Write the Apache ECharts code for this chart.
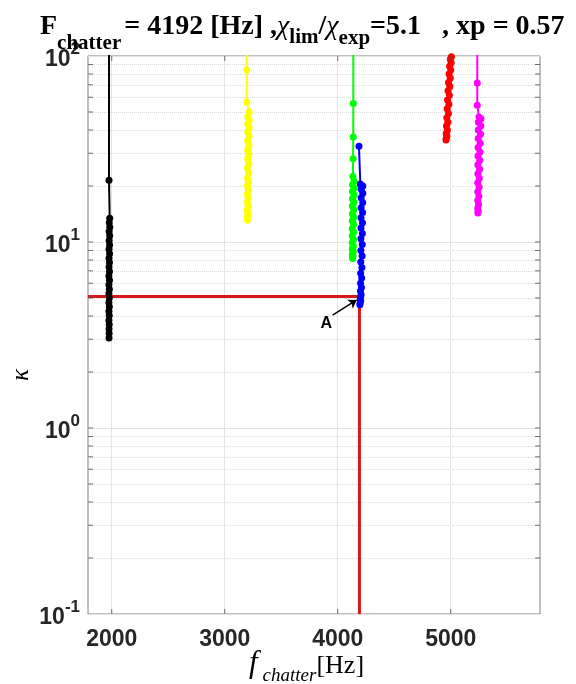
<!DOCTYPE html>
<html><head><meta charset="utf-8">
<script src="https://cdn.jsdelivr.net/npm/echarts@6/dist/echarts.min.js"></script>
<style>html,body{margin:0;padding:0;background:#fff}#c{width:576px;height:684px}</style>
</head><body><div id="c"></div>
<script>
// ---- axes ----
const xRange = [1790, 5790];
const yRange = [0.1, 100];
const xTicks = [2000, 3000, 4000, 5000];
const yTicks = [0.1, 1, 10, 100];
const yMinor = [0.2,0.3,0.4,0.5,0.6,0.7,0.8,0.9,2,3,4,5,6,7,8,9,20,30,40,50,60,70,80,90];

// ---- annotation values ----
const chatterF = 4192;
const ratio = 5.1;
const xp = 0.57;
const arrowFrom = [3955, 4.05];
const arrowTo = [4168, 4.88];
const labelA = [3898, 3.66];

// ---- series ----
const blackF = [1976,1976,1982,1978,1983,1977,1982,1977,1981,1976,1981,1976,1980,1976,1980,1975,1980,1975,1979,1975,1979,1975,1979,1975,1978,1975,1978,1976,1977,1976];
const blackK = [300,21.5,13.4,12.7,12.0,11.4,10.8,10.2,9.65,9.13,8.65,8.19,7.75,7.34,6.95,6.57,6.22,5.89,5.58,5.28,5.0,4.73,4.48,4.24,4.02,3.8,3.6,3.41,3.22,3.05];

const yellowF = [3195,3195,3195,3216,3204,3217,3203,3216,3203,3215,3202,3214,3202,3213,3202,3212,3201,3211,3201,3210,3200,3209,3200,3208,3199,3207,3199,3205,3199,3201];
const yellowK = [300,84,56.6,50,47,45,43,41,39,37,35,33,31,29.5,28,26.5,25,23.5,22,21,20,19,18,17.2,16.3,15.5,14.8,14.1,13.6,13.1];

const greenF = [4138,4138,4137,4136,4134,4145,4131,4146,4130,4145,4130,4144,4129,4143,4129,4142,4129,4141,4128,4140,4128,4139,4128,4138,4128,4137,4129,4135,4130,4132];
const greenK = [300,55.5,36.7,28,22.5,21.2,20.3,19.5,18.7,17.9,17.1,16.3,15.6,14.9,14.2,13.6,13.0,12.4,11.8,11.3,10.8,10.3,9.9,9.5,9.2,8.9,8.6,8.4,8.25,8.15];

const blueF = [4188,4200,4222,4208,4222,4207,4221,4207,4220,4206,4219,4206,4218,4205,4217,4205,4216,4204,4214,4203,4212,4202,4210,4201,4207,4200,4203,4198,4196];
const blueK = [32.7,20.5,20.0,19.2,18.3,17.3,16.3,15.3,14.4,13.5,12.7,11.9,11.1,10.4,9.7,9.0,8.4,7.8,7.3,6.8,6.4,6.0,5.7,5.45,5.2,5.0,4.85,4.7,4.6];

const redF = [5003,5006,4996,5004,4990,5000,4985,4996,4980,4992,4976,4988,4972,4984,4968,4980,4965,4975,4962,4970,4960,4966,4960,4958];
const redK = [108,99,96,92,88,84,80,76,72,68.5,65,61.5,58,55,52,49,46.5,44,42,40,38.3,37,36,35.3];

const magentaF = [5235,5235,5235,5250,5268,5245,5266,5244,5264,5243,5261,5242,5259,5241,5257,5240,5255,5240,5253,5239,5251,5239,5249,5239,5246,5239,5243,5240];
const magentaK = [300,71.6,54.3,47,46,44,42,40,38,36,34,32.2,30.5,29,27.5,26,24.6,23.3,22,20.8,19.7,18.6,17.6,16.7,15.9,15.2,14.7,14.3];

// ---- build ----
const pair = (xs, ys) => xs.map((x, i) => [x, ys[i]]);
function curve(name, xs, ys, color) {
  return {type:'line', name, data: pair(xs, ys), symbol:'circle', symbolSize:7, showSymbol:true,
    lineStyle:{color, width:2}, itemStyle:{color, borderWidth:0, borderColor:color, opacity:1}, animation:false, clip:true, z:3,
    emphasis:{disabled:true}};
}
function ticks(points, size, offset) {
  return {type:'scatter', data: points, symbol:'rect', symbolSize:size, symbolOffset:offset,
    itemStyle:{color:'#4d4d4d', borderWidth:0}, clip:false, silent:true, animation:false, z:5};
}
const tickColor = '#262626';
const sansBold = 'bold 23px "Liberation Sans", Arial, sans-serif';

const chart = echarts.init(document.getElementById('c'), null, {renderer:'canvas'});
const option = {
  animation:false,
  backgroundColor:'#fff',
  grid:{left:88, right:36, top:56, bottom:70, show:true, borderColor:'#808080', borderWidth:1, backgroundColor:'transparent'},
  xAxis:{type:'value', min:xRange[0], max:xRange[1],
    axisLine:{show:false}, axisTick:{show:false}, splitLine:{show:false},
    axisLabel:{customValues:xTicks, formatter: v => String(v), fontSize:23, fontWeight:'bold', fontFamily:'"Liberation Sans", Arial, sans-serif', color:tickColor, margin:14}},
  yAxis:{type:'log', logBase:10, min:yRange[0], max:yRange[1],
    axisLine:{show:false}, axisTick:{show:false}, axisLabel:{show:false},
    splitLine:{show:true, lineStyle:{color:'#e4e4e4', width:1}}},
  series:[
    {type:'line', data:[], silent:true, z:1, markLine:{z:1, silent:true, animation:false, symbol:['none','none'], label:{show:false},
      lineStyle:{color:'#dadada', type:'dotted', width:1},
      data:[...yMinor.map(v => ({yAxis:v})), ...xTicks.map(v => ({xAxis:v, lineStyle:{type:'solid', color:'#e4e4e4', width:1}}))]}},
    ticks(yMinor.concat([1,10]).map(v => [xRange[0], v]), [5,1], [2.5,0]),
    ticks(yMinor.concat([1,10]).map(v => [xRange[1], v]), [5,1], [-2.5,0]),
    ticks(xTicks.map(v => [v, yRange[0]]), [1,5], [0,-2.5]),
    ticks(xTicks.map(v => [v, yRange[1]]), [1,5], [0,2.5]),
    curve('black', blackF, blackK, '#000000'),
    curve('yellow', yellowF, yellowK, '#ffff00'),
    {type:'line', name:'limit', data:[[xRange[0], ratio],[chatterF, ratio],[chatterF, yRange[0]]], symbol:'none',
      lineStyle:{color:'#d41a1a', width:3}, animation:false, z:3, emphasis:{disabled:true}},
    curve('green', greenF, greenK, '#00ff00'),
    curve('blue', blueF, blueK, '#0000ff'),
    curve('red', redF, redK, '#ff0000'),
    curve('magenta', magentaF, magentaK, '#ff00ff'),
    {type:'line', data:[], silent:true, z:6, markLine:{z:6, silent:true, animation:false, symbol:['none','arrow'], symbolSize:8,
      label:{show:false}, lineStyle:{color:'#000', width:1.5, type:'solid'},
      data:[[{coord:arrowFrom},{coord:arrowTo}]]}}
  ]
};
chart.setOption(option);

// ---- text overlays ----
const ctx = document.createElement('canvas').getContext('2d');
function measure(t, font){ ctx.font = font; return ctx.measureText(t).width; }
function txt(t, x, y, font, opts){
  opts = opts || {};
  return {type:'text', x, y, rotation: opts.rot || 0, silent:true, z:100,
    style:{text:t, font, fill: opts.fill || '#000', textAlign: opts.align || 'left', textVerticalAlign:'middle',
      align: opts.align || 'left', verticalAlign:'middle'}};
}
const g = [];
// y tick labels
yTicks.forEach(v => {
  const p = chart.convertToPixel({xAxisIndex:0, yAxisIndex:0}, [xRange[0], v]);
  const e = String(Math.round(Math.log10(v)));
  const supFont = 'bold 17px "Liberation Sans", Arial, sans-serif';
  const we = measure(e, supFont);
  const right = p[0] - 8;
  g.push(txt('10', right - we, p[1] + 4, sansBold, {align:'right', fill:tickColor}));
  g.push(txt(e, right - we, p[1] - 7, supFont, {fill:tickColor}));
});
// label A
const pa = chart.convertToPixel({xAxisIndex:0, yAxisIndex:0}, labelA);
g.push(txt('A', pa[0], pa[1], 'bold 16px "Liberation Sans", Arial, sans-serif', {align:'center'}));

// title
const fm = 'bold 28px "Liberation Serif", "Times New Roman", serif';
const fs = 'bold 21px "Liberation Serif", "Times New Roman", serif';
const fg = 'italic 28px "Liberation Serif", "Times New Roman", serif';
const base = 36;
const pieces = [
  ['F', fm, 0, 0], ['chatter', fs, 14, 3], ['= ' + chatterF + ' [Hz] ,', fm, 0, 0], ['\u03c7', fg, 0, 0],
  ['lim', fs, 8, 0], ['/', fm, 0, 0], ['\u03c7', fg, 0, 0], ['exp', fs, 9, 0], ['=' + ratio + '   , xp = ' + xp, fm, 0, 0]
];
let cx = 40;
pieces.forEach(([t, f, dy, gap]) => {
  const size = parseFloat(f.match(/(\d+)px/)[1]);
  g.push(txt(t, cx, base + dy - 0.32 * size, f));
  cx += measure(t, f) + gap;
});
// x axis name
const fxI = 'italic 31px "Liberation Serif", "Times New Roman", serif';
const fxS = 'italic 19px "Liberation Serif", "Times New Roman", serif';
const fxR = '26px "Liberation Serif", "Times New Roman", serif';
let lx = 249;
const xb = 674;
g.push(txt('f', lx, xb - 0.32*31, fxI)); lx += measure('f', fxI) + 5;
g.push(txt('chatter', lx, xb + 8 - 0.32*19, fxS)); lx += measure('chatter', fxS);
g.push(txt('[Hz]', lx, xb - 0.32*26, fxR));
// y axis name
g.push(txt('\u03ba', 21, 375, 'italic 25px "Liberation Serif", "Times New Roman", serif', {align:'center', rot:Math.PI/2}));

chart.setOption({graphic: g});
</script></body></html>
